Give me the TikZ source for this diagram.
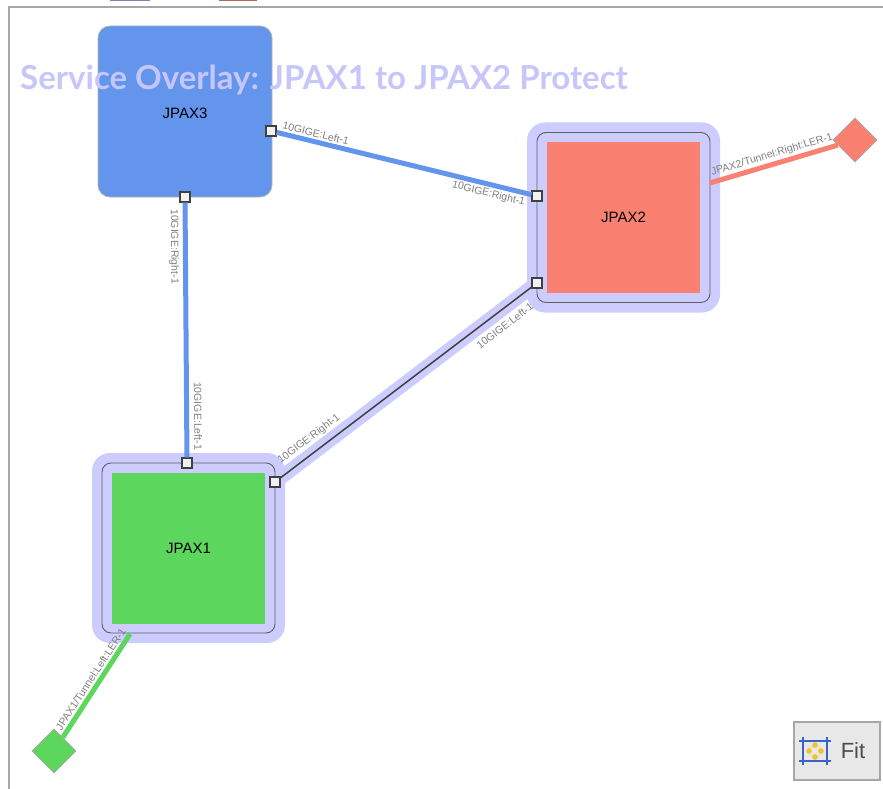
\documentclass[tikz,border=0pt]{standalone}
\usepackage{fontspec}
\setmainfont{Liberation Sans}
\newfontfamily\titlefont{Lato}
\usetikzlibrary{shapes.geometric,backgrounds}
\definecolor{devblue}{HTML}{6495ED}
\definecolor{devred}{HTML}{FA8072}
\definecolor{devgreen}{HTML}{5CD65C}
\definecolor{haloblue}{HTML}{CCCCFF}
\definecolor{titleblue}{HTML}{C6C6FA}
\definecolor{fityellow}{HTML}{F2C12E}
\definecolor{fitblue}{HTML}{3A62C8}

\begin{document}
\begin{tikzpicture}[x=1pt,y=-1pt,
    box/.style={rectangle,minimum width=153pt,minimum height=151pt,inner sep=0pt,font=\fontsize{15}{15}\selectfont},
    ring/.style={rectangle,draw=gray!75!black,line width=.9pt,rounded corners=9pt,minimum width=173pt,minimum height=170pt},
    glow/.style={rectangle,fill=haloblue,rounded corners=18pt,minimum width=193pt,minimum height=190pt},
    port/.style={rectangle,draw=black!75,fill=gray!10,line width=1.2pt,minimum size=10pt,inner sep=0pt},
    tip/.style={diamond,fill=#1,draw=gray!70,line width=.8pt,minimum size=44pt,inner sep=0pt},
    plink/.style={line width=5pt,draw=#1},
    plabel/.style={font=\fontsize{10.5}{11}\selectfont,text=gray,inner sep=2pt,sloped}]
    \useasboundingbox (0,0) rectangle (883,789);
    \begin{scope}[on background layer]
      \fill[white] (0,0) rectangle (883,789);
      \node[glow] (H2) at (623.5,217.5) {};
      \node[glow] (H1) at (188.5,548) {};
    \end{scope}
    \draw[gray!70,line width=1.5pt] (9,789) -- (9,7) -- (883,7);
    \fill[blue!40!black!50] (110,0) rectangle (150,1.5);
    \fill[red!50!black!60] (219,0) rectangle (257,1.5);
    \node[box,fill=devblue,draw=gray!60,line width=.8pt,rounded corners=12pt,minimum width=174pt,minimum height=171pt] (J3) at (185,111.5) {};
    \node[font=\fontsize{15}{15}\selectfont] (L3) at (185,113) {JPAX3};
    \node[ring] (R2) at (623.5,217.5) {};
    \node[box,fill=devred] (J2) at (623.5,217.5) {JPAX2};
    \node[ring] (R1) at (188.5,548) {};
    \node[box,fill=devgreen] (J1) at (188.5,548) {JPAX1};
    \node[tip=devred] (D2) at (855,140) {};
    \node[tip=devgreen] (D1) at (54,751) {};
    \node[port] (P3e) at (271,131) {};
    \node[port] (P3s) at (185,197) {};
    \node[port] (P2w) at (537,196) {};
    \node[port] (P2sw) at (537,283) {};
    \node[port] (P1n) at (187,463) {};
    \node[port] (P1ne) at (275,482) {};
    \coordinate (T2) at (710,183);
    \coordinate (T1) at (130,634);
    \draw[plink=devblue] (P3e) -- node[plabel,pos=0,anchor=south west] {10GIGE:Left-1}
      node[plabel,pos=1,anchor=north east] {10GIGE:Right-1} (P2w);
    \draw[plink=devblue] (P3s) -- node[plabel,pos=0,anchor=north west,inner sep=4pt] {10GIGE:Right-1}
      node[plabel,pos=1,anchor=south east,inner sep=5pt] {10GIGE:Left-1} (P1n);
    \begin{scope}[on background layer]
      \draw[haloblue,line width=14pt] (P1ne.center) -- (P2sw.center);
    \end{scope}
    \draw[gray!50!black,line width=1.5pt] (P1ne) -- node[plabel,pos=0,anchor=south west,inner sep=8pt] {10GIGE:Right-1}
      node[plabel,pos=1,anchor=north east,inner sep=10pt] {10GIGE:Left-1} (P2sw);
    \draw[plink=devred] (T2) -- node[plabel,pos=0,anchor=south west] {JPAX2/Tunnel:Right:LER-1} (D2);
    \draw[plink=devgreen] (T1) -- node[plabel,pos=1,anchor=south west] {JPAX1/Tunnel:Left:LER-1} (D1);
    \node[anchor=west,text=titleblue,inner sep=0pt] (Title) at (20,80) {\titlefont\bfseries\fontsize{33}{34}\selectfont Service Overlay: JPAX1 to JPAX2 Protect};
    \node[fill=gray!18,draw=gray!70,line width=1.5pt,minimum width=86pt,minimum height=58pt] (Fit) at (837,751) {};
    \node[font=\fontsize{22}{22}\selectfont,text=black!70] (FitText) at (853,751) {Fit};
    \draw[fitblue,line width=1.5pt] (799,741) -- (831,741) (799,761) -- (831,761) (803,737) -- (803,765) (827,737) -- (827,765);
    \draw[fityellow!50,line width=1pt] (815,751) circle (6);
    \foreach \a in {0,90,180,270}
      \fill[fityellow] (815,751) ++(\a:6) circle (2.8);
\end{tikzpicture}
\end{document}
